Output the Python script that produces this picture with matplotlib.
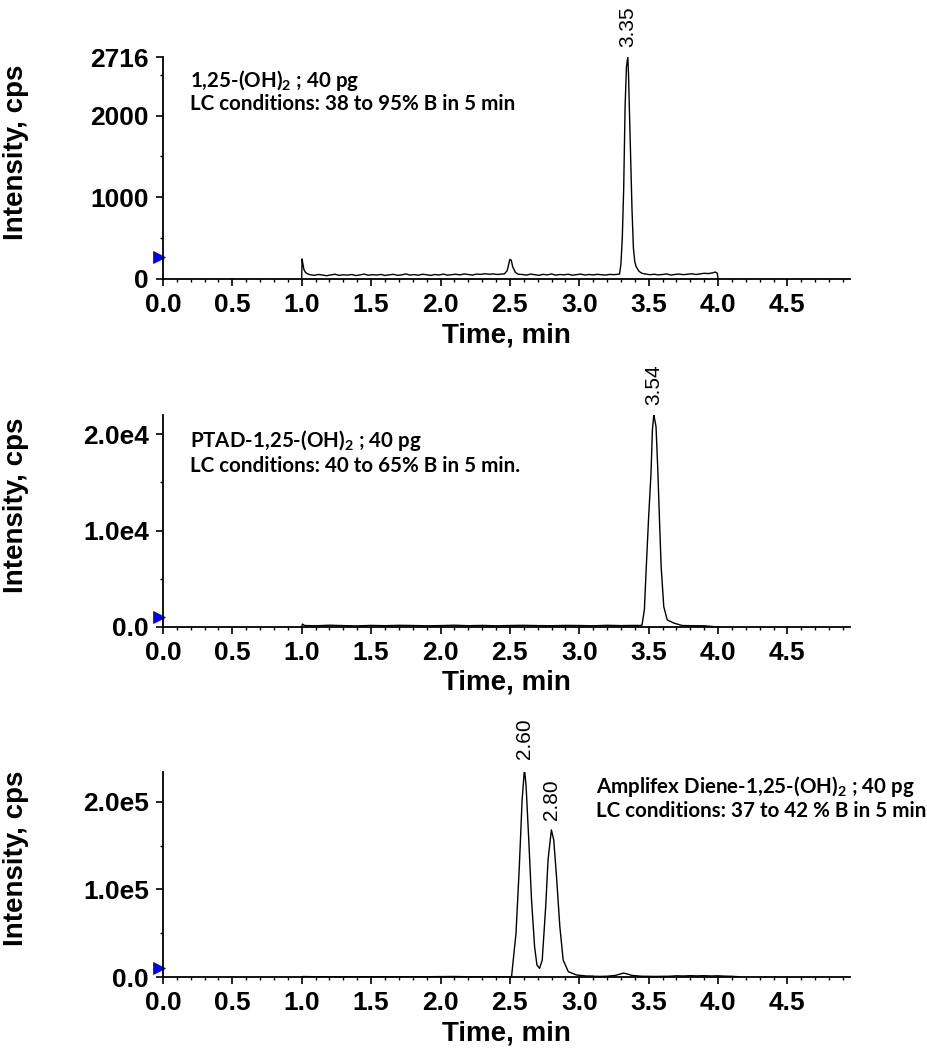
import matplotlib
matplotlib.use("Agg")
import matplotlib.pyplot as plt
from matplotlib.ticker import MultipleLocator, FixedLocator

plt.rcParams['font.family'] = ['Liberation Sans', 'DejaVu Sans']
plt.rcParams['mathtext.default'] = 'regular'

# ---- panel 1 : 1,25-(OH)2 ----
t1 = [1.000, 1.002, 1.008, 1.015, 1.025, 1.040,
      1.06, 1.09, 1.12, 1.15, 1.18, 1.21, 1.24, 1.27, 1.30, 1.33,
      1.36, 1.39, 1.42, 1.45, 1.48, 1.51, 1.54, 1.57, 1.60, 1.63,
      1.66, 1.69, 1.72, 1.75, 1.78, 1.81, 1.84, 1.87, 1.90, 1.93,
      1.96, 1.99, 2.02, 2.05, 2.08, 2.11, 2.14, 2.17, 2.20, 2.23,
      2.26, 2.29, 2.32, 2.35, 2.38, 2.41, 2.44,
      2.46, 2.48, 2.49, 2.50, 2.51, 2.52, 2.54, 2.56,
      2.59, 2.62, 2.65, 2.68, 2.71, 2.74, 2.77, 2.80, 2.83, 2.86,
      2.89, 2.92, 2.95, 2.98, 3.01, 3.04, 3.07, 3.10, 3.13, 3.16,
      3.19, 3.22, 3.25, 3.28,
      3.29, 3.30, 3.31, 3.32, 3.33, 3.34, 3.35, 3.355, 3.36, 3.37,
      3.38, 3.39, 3.40, 3.41, 3.43, 3.45,
      3.48, 3.51, 3.54, 3.57, 3.60, 3.63, 3.66, 3.69, 3.72, 3.75,
      3.78, 3.81, 3.84, 3.87, 3.90, 3.93, 3.96, 3.98, 3.995, 4.000]
y1 = [20, 245, 190, 120, 85, 65,
      52, 45, 55, 48, 40, 50, 58, 44, 52, 47,
      55, 42, 50, 60, 46, 53, 48, 56, 43, 51,
      57, 45, 50, 62, 48, 54, 46, 58, 52, 44,
      55, 49, 60, 47, 53, 58, 50, 62, 55, 48,
      60, 56, 65, 58, 62, 55, 60,
      62, 100, 170, 240, 230, 150, 80, 58,
      55, 48, 60, 52, 45, 57, 50, 62, 47, 55,
      51, 58, 46, 53, 60, 49, 55, 50, 57, 52,
      48, 56, 53, 58,
      60, 180, 500, 1100, 2100, 2600, 2716, 2500, 2150, 1500,
      850, 380, 210, 150, 95, 70,
      60, 52, 58, 50, 55, 62, 48, 56, 60, 53,
      58, 64, 55, 62, 70, 66, 75, 85, 70, 0]

# ---- panel 2 : PTAD-1,25-(OH)2 ----
t2 = [1.00, 1.005, 1.02, 1.1, 1.2, 1.3, 1.4, 1.5, 1.6, 1.7, 1.8, 1.9,
      2.0, 2.1, 2.2, 2.3, 2.4, 2.5, 2.6, 2.7, 2.8, 2.9, 3.0, 3.1,
      3.2, 3.3, 3.4, 3.44,
      3.452, 3.469, 3.483, 3.500, 3.517, 3.527, 3.537, 3.540, 3.553,
      3.566, 3.578, 3.590, 3.609, 3.634, 3.682, 3.742,
      3.8, 3.9, 4.0]
y2 = [0, 300, 150, 120, 180, 140, 110, 160, 130, 170, 150, 120,
      140, 180, 130, 160, 120, 150, 170, 140, 130, 160, 150, 120,
      170, 140, 160, 150,
      200, 1760, 6260, 11450, 15980, 20440, 22000, 21800, 20790,
      16290, 11100, 6260, 2100, 730, 400, 150,
      130, 120, 0]

# ---- panel 3 : Amplifex Diene-1,25-(OH)2 ----
t3 = [1.00, 1.01, 1.1, 1.2, 1.3, 1.4, 1.5, 1.6, 1.7, 1.8, 1.9,
      2.0, 2.1, 2.2, 2.3, 2.4, 2.5, 2.512,
      2.544, 2.568, 2.588, 2.605, 2.617, 2.636, 2.656, 2.678, 2.695,
      2.714, 2.733, 2.758, 2.775, 2.799, 2.816, 2.836, 2.860, 2.884,
      2.921, 2.981,
      3.05, 3.10, 3.15, 3.20, 3.26, 3.29, 3.32, 3.35, 3.38, 3.45,
      3.55, 3.65, 3.70, 3.75, 3.80, 3.85, 3.90, 3.95, 4.00, 4.05,
      4.10, 4.15]
y3 = [0, 600, 300, 350, 250, 300, 280, 320, 300, 250, 350,
      500, 600, 300, 250, 300, 350, 500,
      49900, 126000, 202000, 237700, 217500, 156600, 88000, 34600, 13700,
      9900, 19400, 80400, 133700, 168000, 156600, 114600, 57500, 19400,
      6100, 2300,
      1200, 900, 700, 900, 1800, 3200, 4500, 3300, 1800, 900,
      700, 900, 1400, 1200, 1500, 1300, 1500, 1200, 1400, 1000,
      800, 300]

red_t = [1.20, 1.27, 3.07, 3.09, 4.34, 4.41]
red_y = [500, 500, 1000, 800, 500, 500]

panels = [
    dict(t=t1, y=y1, ylim=2716, yticks=[0, 1000, 2000, 2716],
         ylabels=['0', '1000', '2000', '2716'], yminor=500,
         peaks=[(3.35, 2716)], labels=['3.35'], marker_y=270,
         rect=[0.1758, 0.7343, 0.741, 0.2114],
         text=['1,25-(OH)$_2$ ; 40 pg',
               'LC conditions: 38 to 95% B in 5 min'],
         tx=0.039, ty=[0.865, 0.761], xlab_y=-0.194, ylab_y=0.572),
    dict(t=t2, y=y2, ylim=22000, yticks=[0, 10000, 20000],
         ylabels=['0.0', '1.0e4', '2.0e4'], yminor=5000,
         peaks=[(3.537, 22000)], labels=['3.54'], marker_y=1000,
         rect=[0.1758, 0.4029, 0.741, 0.2019],
         text=['PTAD-1,25-(OH)$_2$ ; 40 pg',
               'LC conditions: 40 to 65% B in 5 min.'],
         tx=0.039, ty=[0.849, 0.731], xlab_y=-0.203, ylab_y=0.575),
    dict(t=t3, y=y3, ylim=234000, yticks=[0, 100000, 200000],
         ylabels=['0.0', '1.0e5', '2.0e5'], yminor=50000,
         peaks=[(2.605, 237700), (2.799, 168000)], labels=['2.60', '2.80'],
         marker_y=10000,
         rect=[0.1758, 0.0695, 0.741, 0.1952],
         text=['Amplifex Diene-1,25-(OH)$_2$ ; 40 pg',
               'LC conditions: 37 to 42 % B in 5 min'],
         tx=0.631, ty=[0.898, 0.782], xlab_y=-0.210, ylab_y=0.58),
]

fig = plt.figure(figsize=(9.27, 10.5), dpi=100)

for i, p in enumerate(panels):
    ax = fig.add_axes(p['rect'])
    ax.plot(p['t'], p['y'], color='black', lw=1.0)
    if i == 2:
        ax.plot(red_t, red_y, 's', color='red', ms=1.5, mew=0)
    ax.set_xlim(0, 4.95)
    ax.set_ylim(0, p['ylim'])
    for s in ['top', 'right']:
        ax.spines[s].set_visible(False)
    for s in ['left', 'bottom']:
        ax.spines[s].set_linewidth(1.3)

    ax.xaxis.set_minor_locator(MultipleLocator(0.1))
    ax.set_xticks([0, 0.5, 1.0, 1.5, 2.0, 2.5, 3.0, 3.5, 4.0, 4.5])
    ax.set_xticklabels(['0.0', '0.5', '1.0', '1.5', '2.0', '2.5',
                        '3.0', '3.5', '4.0', '4.5'])
    ax.yaxis.set_major_locator(FixedLocator(p['yticks']))
    ax.set_yticklabels(p['ylabels'])
    ax.yaxis.set_minor_locator(MultipleLocator(p['yminor']))
    ax.tick_params(which='major', direction='out', length=5, width=1.2,
                   labelsize=19, pad=5)
    ax.tick_params(which='minor', direction='out', length=2.5, width=1.0)
    for lab in ax.get_xticklabels() + ax.get_yticklabels():
        lab.set_fontweight('bold')

    ax.set_xlabel('Time, min', fontsize=20, fontweight='bold')
    ax.xaxis.set_label_coords(0.5, p['xlab_y'])
    ax.set_ylabel('Intensity, cps', fontsize=20, fontweight='bold')
    ax.yaxis.set_label_coords(-0.195, p['ylab_y'])

    # blue start marker at the y axis
    ax.plot([-0.03], [p['marker_y']], marker='>', color='#0000ff',
            ms=9, mec='#000080', mew=0.5, clip_on=False)

    for (pt, py), lab in zip(p['peaks'], p['labels']):
        ax.annotate(lab, xy=(pt, py), xytext=(0, 7), textcoords='offset points',
                    rotation=90, ha='center', va='bottom', fontsize=15,
                    annotation_clip=False)

    for line, ty in zip(p['text'], p['ty']):
        ax.text(p['tx'], ty, line, transform=ax.transAxes, fontsize=14.8,
                fontweight='bold', family=['Lato', 'DejaVu Sans'],
                ha='left', va='baseline')

fig.savefig('out.png', dpi=100)
